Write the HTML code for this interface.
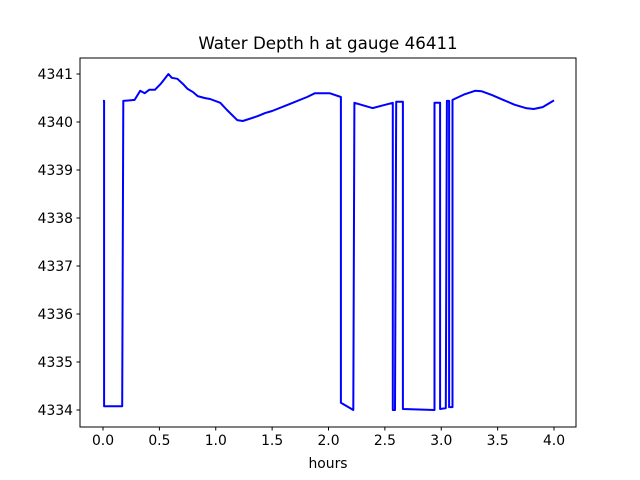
<!DOCTYPE html>
<html><head><meta charset="utf-8"><style>
body{margin:0;background:#fff}
svg{display:block;font-family:"DejaVu Sans","Liberation Sans",sans-serif}
</style></head><body>
<svg id="chart" width="640" height="480">
<rect width="640" height="480" fill="#fff"/>
<text x="328" y="49" font-size="16.7" text-anchor="middle">Water Depth h at gauge 46411</text>
<g id="xt"></g>
<g id="yt"></g>
<path id="line" fill="none" stroke="#0000ff" stroke-width="2" stroke-linejoin="round"/>
<rect x="80" y="58" width="496" height="369" fill="none" stroke="#000" stroke-width="1"/>
<text x="328" y="468" font-size="13.9" text-anchor="middle">hours</text>
</svg>
<script>
const hours=[0.0,0.01,0.01,0.17,0.18,0.28,0.33,0.37,0.41,0.46,0.51,0.53,0.58,0.61,0.66,0.71,0.75,0.80,0.84,0.90,0.95,1.04,1.10,1.19,1.24,1.37,1.44,1.50,1.66,1.81,1.88,2.01,2.11,2.11,2.22,2.23,2.39,2.57,2.57,2.59,2.60,2.66,2.66,2.94,2.94,2.99,2.99,3.04,3.05,3.07,3.07,3.10,3.10,3.20,3.30,3.36,3.45,3.55,3.65,3.75,3.82,3.90,4.00];
const depth=[4340.44,4340.44,4334.08,4334.08,4340.44,4340.46,4340.65,4340.60,4340.67,4340.67,4340.79,4340.85,4341.0,4340.92,4340.90,4340.79,4340.69,4340.62,4340.54,4340.50,4340.48,4340.40,4340.25,4340.04,4340.02,4340.12,4340.19,4340.23,4340.38,4340.52,4340.60,4340.60,4340.52,4334.15,4334.0,4340.40,4340.29,4340.40,4334.0,4334.0,4340.42,4340.42,4334.02,4334.0,4340.40,4340.40,4334.02,4334.04,4340.44,4340.44,4334.06,4334.06,4340.46,4340.57,4340.65,4340.64,4340.56,4340.46,4340.36,4340.29,4340.27,4340.31,4340.45];
const xTicks=["0.0","0.5","1.0","1.5","2.0","2.5","3.0","3.5","4.0"];
const yTicks=[4334,4335,4336,4337,4338,4339,4340,4341];
const X=h=>103+112.75*h, Y=v=>74+(4341-v)*48;
const ns="http://www.w3.org/2000/svg";
const xt=document.getElementById('xt'), yt=document.getElementById('yt');
xTicks.forEach(t=>{const x=X(parseFloat(t));
 const l=document.createElementNS(ns,'line');l.setAttribute('x1',x);l.setAttribute('x2',x);l.setAttribute('y1',427);l.setAttribute('y2',430.5);l.setAttribute('stroke','#000');
 
 xt.appendChild(l);
 const s=document.createElementNS(ns,'text');s.setAttribute('x',x);s.setAttribute('y',445);s.setAttribute('font-size','13.9');s.setAttribute('text-anchor','middle');s.textContent=t;
 
 xt.appendChild(s);});
yTicks.forEach(t=>{const y=Y(t);
 const l=document.createElementNS(ns,'line');l.setAttribute('x1',76.5);l.setAttribute('x2',80);l.setAttribute('y1',y);l.setAttribute('y2',y);l.setAttribute('stroke','#000');
 
 yt.appendChild(l);
 const s=document.createElementNS(ns,'text');s.setAttribute('x',73);s.setAttribute('y',y+5);s.setAttribute('font-size','13.9');s.setAttribute('text-anchor','end');s.textContent=t;
 
 yt.appendChild(s);});
document.getElementById('line').setAttribute('d',hours.map((h,i)=>(i?'L':'M')+X(h).toFixed(1)+','+Y(depth[i]).toFixed(1)).join(''));
</script>
</body></html>
